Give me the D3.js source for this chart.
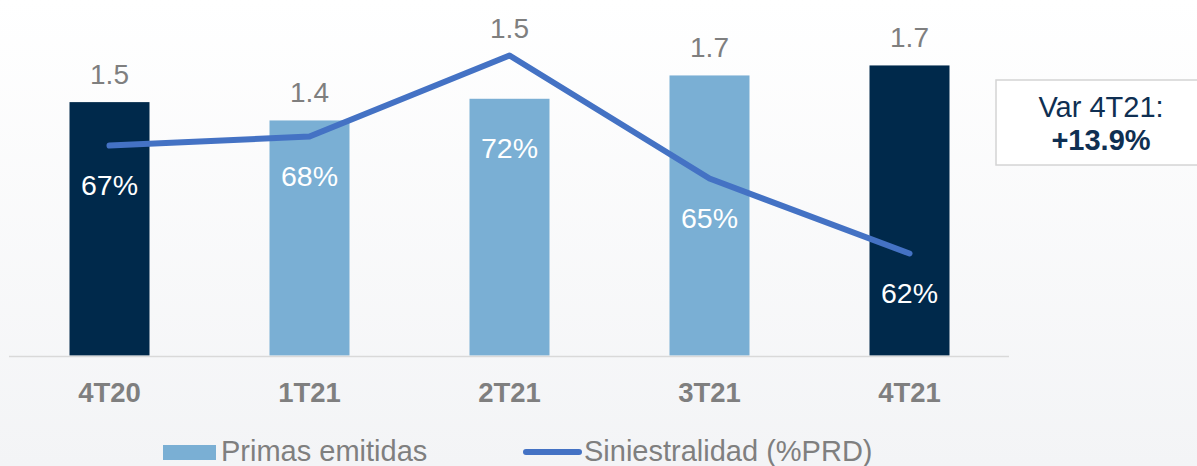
<!DOCTYPE html>
<html>
<head>
<meta charset="utf-8">
<script src="https://cdn.jsdelivr.net/npm/d3@7"></script>
<style>
  html, body { margin: 0; padding: 0; background: #fff; }
  svg { display: block; font-family: "Liberation Sans", Arial, sans-serif; }
</style>
</head>
<body>
<div id="chart"></div>
<script>
// data
var quarters = ["4T20", "1T21", "2T21", "3T21", "4T21"];
var primas = [1.52, 1.41, 1.54, 1.68, 1.74];          // bn, bars
var siniestralidad = [67.1, 67.55, 71.6, 65.45, 61.7]; // %, line
var highlighted = ["4T20", "4T21"];
var legendLabels = ["Primas emitidas", "Siniestralidad (%PRD)"];
var boxLines = ["Var 4T21:", "+13.9%"];

var width = 1197, height = 466;
var baseY = 355.5;

var navy = "#00294b", light = "#7aafd4", lineBlue = "#4472c4", grey = "#7f7f7f";

var svg = d3.select("#chart").append("svg")
    .attr("width", width)
    .attr("height", height);

var grad = svg.append("defs").append("linearGradient")
    .attr("id", "bg").attr("x1", 0).attr("y1", 0).attr("x2", 0).attr("y2", 1);
grad.append("stop").attr("offset", "0%").attr("stop-color", "#ffffff");
grad.append("stop").attr("offset", "100%").attr("stop-color", "#f3f4f6");
svg.append("rect").attr("width", width).attr("height", height).attr("fill", "url(#bg)");

var x = d3.scaleBand()
    .domain(quarters)
    .range([9.5, 1009.5])
    .paddingInner(0.6)
    .paddingOuter(0.3);

var y = d3.scaleLinear().domain([0, 2]).range([baseY, baseY - 333.4]);
var yPct = d3.scaleLinear().domain([56.6, 74]).range([baseY, baseY - 348]);

var rows = quarters.map(function(q, i) {
  return { q: q, v: primas[i], p: siniestralidad[i] };
});

// bars
svg.append("g").selectAll("rect")
    .data(rows)
    .enter().append("rect")
    .attr("x", function(d) { return x(d.q); })
    .attr("y", function(d) { return y(d.v); })
    .attr("width", x.bandwidth())
    .attr("height", function(d) { return baseY - y(d.v); })
    .attr("fill", function(d) { return highlighted.indexOf(d.q) >= 0 ? navy : light; });

// baseline
svg.append("line")
    .attr("x1", 9).attr("x2", 1009)
    .attr("y1", baseY + 1).attr("y2", baseY + 1)
    .attr("stroke", "#d9d9d9").attr("stroke-width", 1.5);

// category labels
svg.append("g").selectAll("text")
    .data(rows)
    .enter().append("text")
    .attr("x", function(d) { return x(d.q) + x.bandwidth() / 2; })
    .attr("y", 402)
    .attr("text-anchor", "middle")
    .attr("font-size", 27.5)
    .attr("font-weight", "bold")
    .attr("fill", grey)
    .text(function(d) { return d.q; });

// line
var cx = function(d) { return x(d.q) + x.bandwidth() / 2; };
svg.append("path")
    .datum(rows)
    .attr("fill", "none")
    .attr("stroke", lineBlue)
    .attr("stroke-width", 6)
    .attr("stroke-linecap", "round")
    .attr("stroke-linejoin", "round")
    .attr("d", d3.line().x(cx).y(function(d) { return yPct(d.p); }));

// bar value labels (above bar, or above the line if it's higher)
var fmt1 = d3.format(".1f");
svg.append("g").selectAll("text")
    .data(rows)
    .enter().append("text")
    .attr("x", cx)
    .attr("y", function(d) { return Math.min(y(d.v), yPct(d.p)) - 18; })
    .attr("text-anchor", "middle")
    .attr("font-size", 28)
    .attr("fill", grey)
    .text(function(d) { return fmt1(d.v); });

// percent labels inside bars
svg.append("g").selectAll("text")
    .data(rows)
    .enter().append("text")
    .attr("x", cx)
    .attr("y", function(d) { return Math.max(yPct(d.p) + 49, y(d.v) + 59); })
    .attr("text-anchor", "middle")
    .attr("font-size", 28.5)
    .attr("fill", "#ffffff")
    .text(function(d) { return d3.format(".0f")(d.p) + "%"; });

// variation box
var box = svg.append("g");
box.append("rect")
    .attr("x", 996).attr("y", 80)
    .attr("width", 210).attr("height", 85)
    .attr("fill", "#ffffff")
    .attr("stroke", "#d4d4d4").attr("stroke-width", 1.5);
box.append("text")
    .attr("x", 1101).attr("y", 117)
    .attr("text-anchor", "middle")
    .attr("font-size", 29)
    .attr("fill", "#0f2f52")
    .text(boxLines[0]);
box.append("text")
    .attr("x", 1101).attr("y", 150)
    .attr("text-anchor", "middle")
    .attr("font-size", 29)
    .attr("font-weight", "bold")
    .attr("fill", "#0f2f52")
    .text(boxLines[1]);

// legend
var legend = svg.append("g");
legend.append("rect")
    .attr("x", 163).attr("y", 445)
    .attr("width", 53).attr("height", 15)
    .attr("fill", light);
legend.append("text")
    .attr("x", 221).attr("y", 461)
    .attr("font-size", 29)
    .attr("fill", grey)
    .text(legendLabels[0]);
legend.append("line")
    .attr("x1", 526).attr("x2", 579)
    .attr("y1", 452).attr("y2", 452)
    .attr("stroke", lineBlue).attr("stroke-width", 6)
    .attr("stroke-linecap", "round");
legend.append("text")
    .attr("x", 584).attr("y", 461)
    .attr("font-size", 29)
    .attr("fill", grey)
    .text(legendLabels[1]);
</script>
</body>
</html>
